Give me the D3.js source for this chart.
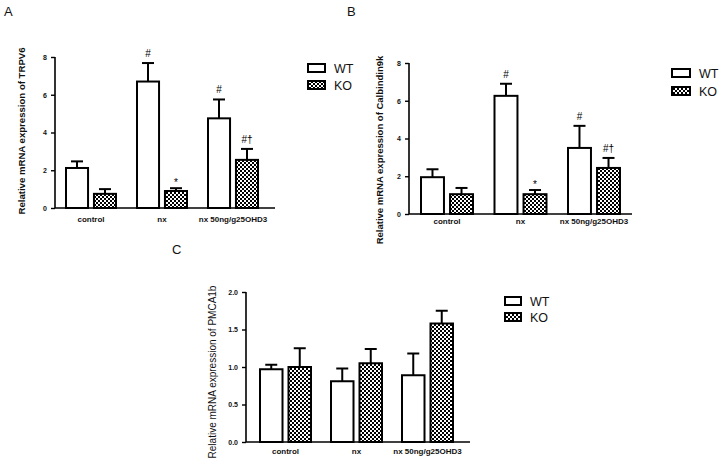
<!DOCTYPE html>
<html><head><meta charset="utf-8">
<script src="https://cdn.jsdelivr.net/npm/d3@7"></script>
<style>body{margin:0;background:#fff}svg{display:block;font-family:"Liberation Sans",Arial,sans-serif}</style>
</head><body><svg id="c" width="725" height="463"></svg>
<script>
// ---- data ----
const categories = ["control", "nx", "nx 50ng/g25OHD3"];
const seriesNames = ["WT", "KO"];

const trpv6WT = [2.12, 6.7, 4.75];
const trpv6WTErr = [0.35, 0.98, 1.0];
const trpv6KO = [0.75, 0.9, 2.55];
const trpv6KOErr = [0.25, 0.15, 0.58];
const trpv6WTMarks = ["", "#", "#"];
const trpv6KOMarks = ["", "*", "#\u2020"];

const calbWT = [1.95, 6.26, 3.5];
const calbWTErr = [0.42, 0.64, 1.17];
const calbKO = [1.05, 1.05, 2.44];
const calbKOErr = [0.33, 0.22, 0.53];
const calbWTMarks = ["", "#", "#"];
const calbKOMarks = ["", "*", "#\u2020"];

const pmcaWT = [0.97, 0.81, 0.89];
const pmcaWTErr = [0.06, 0.17, 0.29];
const pmcaKO = [1.0, 1.05, 1.58];
const pmcaKOErr = [0.25, 0.19, 0.17];
const pmcaWTMarks = ["", "", ""];
const pmcaKOMarks = ["", "", ""];

const ticksAB = [0, 2, 4, 6, 8];
const ticksC = [0, 0.5, 1.0, 1.5, 2.0];

// ---- drawing ----
const svg = d3.select("#c");
const defs = svg.append("defs");
const pat = defs.append("pattern").attr("id", "chk").attr("patternUnits", "userSpaceOnUse")
  .attr("width", 4).attr("height", 4);
pat.append("rect").attr("width", 4).attr("height", 4).attr("fill", "#000");
pat.append("rect").attr("x", 0).attr("y", 0).attr("width", 2).attr("height", 2).attr("fill", "#fff");
pat.append("rect").attr("x", 2).attr("y", 2).attr("width", 2).attr("height", 2).attr("fill", "#fff");

const FONT = "'Liberation Sans',Arial,sans-serif";

function panel(cfg) {
  const g = svg.append("g");
  const y = d3.scaleLinear().domain([0, cfg.max]).range([cfg.base, cfg.top]);
  const pin = 1 - cfg.groupW / cfg.step;
  const x = d3.scaleBand().domain(categories)
    .range([cfg.start, cfg.start + cfg.step * (3 - pin)])
    .paddingInner(pin).paddingOuter(0);
  const xs = d3.scaleBand().domain(seriesNames).range([0, x.bandwidth()]).paddingInner(0.14);

  // y axis
  const yAxis = d3.axisLeft(y).tickValues(cfg.ticks).tickSize(4).tickPadding(4)
    .tickFormat(cfg.fmt);
  const ya = g.append("g").attr("transform", `translate(${cfg.axisX},0)`).call(yAxis);
  ya.select(".domain").attr("stroke-width", 1.6).attr("d", `M0,${cfg.base}V${cfg.top}`);
  ya.selectAll(".tick line").attr("stroke-width", 1.4);
  ya.selectAll("text").attr("font-size", cfg.tickFont).attr("font-weight", "bold")
    .attr("font-family", FONT).attr("fill", "#111");

  // x axis line
  g.append("line").attr("x1", cfg.axisX).attr("x2", cfg.axisEnd)
    .attr("y1", cfg.base).attr("y2", cfg.base).attr("stroke", "#000").attr("stroke-width", 1.6);
  // category labels
  const xa = g.append("g").attr("transform", `translate(0,${cfg.base})`)
    .call(d3.axisBottom(x).tickSize(0).tickPadding(cfg.catPad));
  xa.select(".domain").remove();
  xa.selectAll("text").attr("font-size", 8).attr("font-weight", "bold")
    .attr("font-family", FONT).attr("fill", "#111");

  const sets = [
    {name: "WT", v: cfg.wt, e: cfg.wtErr, m: cfg.wtMarks, fill: "#fff"},
    {name: "KO", v: cfg.ko, e: cfg.koErr, m: cfg.koMarks, fill: "url(#chk)"}
  ];
  sets.forEach(s => {
    const sg = g.append("g");
    const bw = xs.bandwidth();
    const cx = (c) => x(c) + xs(s.name) + bw / 2;
    sg.append("g").selectAll("line").data(categories).join("line")
      .attr("x1", c => cx(c)).attr("x2", c => cx(c))
      .attr("y1", (c, i) => y(s.v[i])).attr("y2", (c, i) => y(s.v[i] + s.e[i]))
      .attr("stroke", "#000").attr("stroke-width", 2);
    sg.append("g").selectAll("line").data(categories).join("line")
      .attr("x1", c => cx(c) - 6).attr("x2", c => cx(c) + 6)
      .attr("y1", (c, i) => y(s.v[i] + s.e[i])).attr("y2", (c, i) => y(s.v[i] + s.e[i]))
      .attr("stroke", "#000").attr("stroke-width", 2);
    sg.append("g").selectAll("rect").data(categories).join("rect")
      .attr("x", c => x(c) + xs(s.name) + 1).attr("width", bw - 2)
      .attr("y", (c, i) => y(s.v[i])).attr("height", (c, i) => cfg.base - y(s.v[i]))
      .attr("fill", s.fill).attr("stroke", "#000").attr("stroke-width", 2);
    sg.append("g").selectAll("text").data(categories).join("text")
      .attr("x", c => cx(c)).attr("text-anchor", "middle")
      .attr("y", (c, i) => y(s.v[i] + s.e[i]) - (s.m[i] === "*" ? 2 : 6))
      .attr("font-size", 10).attr("fill", "#000").attr("font-family", FONT)
      .text((c, i) => s.m[i]);
  });

  // y label
  g.append("text").attr("transform", `translate(${cfg.labelX},${cfg.labelY}) rotate(-90)`)
    .attr("text-anchor", "middle").attr("font-size", cfg.labelFont)
    .attr("font-weight", cfg.labelWeight).attr("fill", "#111").text(cfg.ylabel);

  // panel letter
  g.append("text").attr("x", cfg.letterX).attr("y", cfg.letterY)
    .attr("font-size", 13).attr("fill", "#111").text(cfg.letter);

  // legend
  const lg = g.append("g").attr("transform", `translate(${cfg.legendX},${cfg.legendY})`);
  seriesNames.forEach((n, i) => {
    lg.append("rect").attr("x", 1).attr("y", i * cfg.legStep + 1).attr("width", cfg.boxW).attr("height", 8)
      .attr("fill", n === "WT" ? "#fff" : "url(#chk)").attr("stroke", "#000").attr("stroke-width", 2);
    lg.append("text").attr("x", cfg.boxW + 10).attr("y", i * cfg.legStep + 9.5)
      .attr("font-size", 12.5).attr("fill", "#111").text(n);
  });
}

panel({letter: "A", letterX: 4, letterY: 16,
  axisX: 55, axisEnd: 275, base: 208, top: 57, max: 8, ticks: ticksAB, fmt: d3.format("d"),
  tickFont: 7, start: 65, step: 71, groupW: 52, catPad: 8,
  wt: trpv6WT, wtErr: trpv6WTErr, ko: trpv6KO, koErr: trpv6KOErr, wtMarks: trpv6WTMarks, koMarks: trpv6KOMarks,
  ylabel: "Relative mRNA expression of TRPV6", labelX: 25, labelY: 131, labelFont: 9.6, labelWeight: "bold",
  legendX: 307, legendY: 63, legStep: 17, boxW: 17});

panel({letter: "B", letterX: 347, letterY: 16,
  axisX: 409, axisEnd: 632, base: 214, top: 63, max: 8, ticks: ticksAB, fmt: d3.format("d"),
  tickFont: 7, start: 420, step: 73.5, groupW: 54, catPad: 4,
  wt: calbWT, wtErr: calbWTErr, ko: calbKO, koErr: calbKOErr, wtMarks: calbWTMarks, koMarks: calbKOMarks,
  ylabel: "Relative mRNA expression of Calbindin9k", labelX: 383, labelY: 150, labelFont: 9.5, labelWeight: "bold",
  legendX: 671, legendY: 68, legStep: 18, boxW: 18});

panel({letter: "C", letterX: 172, letterY: 254,
  axisX: 246, axisEnd: 470, base: 442, top: 292, max: 2, ticks: ticksC, fmt: d3.format(".1f"),
  tickFont: 7, start: 259, step: 71, groupW: 53, catPad: 6,
  wt: pmcaWT, wtErr: pmcaWTErr, ko: pmcaKO, koErr: pmcaKOErr, wtMarks: pmcaWTMarks, koMarks: pmcaKOMarks,
  ylabel: "Relative mRNA expression of PMCA1b", labelX: 216, labelY: 372, labelFont: 10, labelWeight: "normal",
  legendX: 504, legendY: 296, legStep: 16, boxW: 16});
</script></body></html>
